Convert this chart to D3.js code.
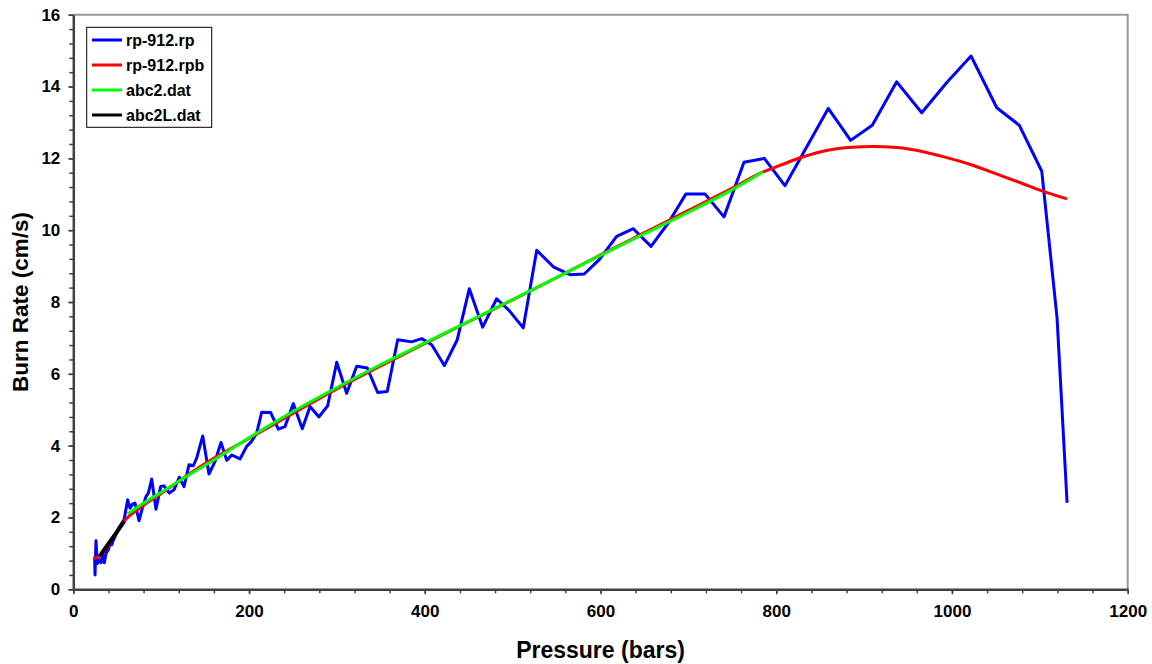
<!DOCTYPE html>
<html>
<head>
<meta charset="utf-8">
<script src="https://cdn.jsdelivr.net/npm/d3@7/dist/d3.min.js"></script>
<style>
body { margin: 0; background: #fff; }
text { font-family: "Liberation Sans", Arial, sans-serif; font-weight: bold; fill: #000; }
</style>
</head>
<body>
<script>
// tick values
var xTicks = [0, 200, 400, 600, 800, 1000, 1200];
var yTicks = [0, 2, 4, 6, 8, 10, 12, 14, 16];

var seriesNames = ["rp-912.rp", "rp-912.rpb", "abc2.dat", "abc2L.dat"];
var seriesColors = ["#0000ff", "#ff0000", "#00ff00", "#000000"];

// rp-912.rp (measured, noisy)
var rpPressure = [24.3, 24.7, 25.8, 27.4, 29.6, 31.5, 33.4, 35.3, 37.2, 39.9, 41.8, 43.7, 45.6, 47.5, 51.3, 55.1, 57.7,
  61.9, 64.5, 67.6, 70.2, 74.8, 79, 82.7, 85.4, 89.2, 94.1, 99.4, 103.2, 109.3, 114.6, 120.6, 126, 131.7, 136.6, 140.4,
  147.3, 154.4, 161.3, 168.1, 174.6, 180.3, 189.7, 197.3, 203, 208.7, 214.4, 224.6, 233.3, 240.9, 250.4, 260.6, 269.4,
  279.6, 289.5, 299.8, 311.1, 322.5, 334.6, 346.4, 357.3, 369.2, 385.1, 396.5, 407.9, 422.3, 437, 450.7, 465.9, 481.8,
  495, 512.1, 527.4, 546.3, 565.3, 581.5, 598.6, 618.4, 637.3, 657.5, 677.1, 697.3, 718.9, 740.5, 763.3, 786.4, 809.9,
  859.2, 884.7, 909.3, 937.1, 965.6, 994.1, 1021.7, 1051, 1076.7, 1102.2, 1119.6, 1131];
var rpRate = [0.91, 0.40, 1.35, 0.72, 0.82, 0.74, 0.96, 0.74, 1.00, 1.10, 1.28, 1.24, 1.37, 1.47, 1.70, 1.84, 1.93,
  2.49, 2.26, 2.38, 2.40, 1.91, 2.30, 2.58, 2.68, 3.07, 2.23, 2.86, 2.88, 2.68, 2.77, 3.12, 2.86, 3.47, 3.44, 3.65,
  4.27, 3.21, 3.56, 4.09, 3.59, 3.74, 3.63, 3.98, 4.12, 4.35, 4.93, 4.92, 4.46, 4.53, 5.17, 4.47, 5.09,
  4.80, 5.11, 6.32, 5.46, 6.21, 6.16, 5.48, 5.51, 6.95, 6.89, 6.98, 6.81, 6.23, 6.95, 8.37, 7.30, 8.09,
  7.79, 7.28, 9.44, 8.98, 8.76, 8.78, 9.18, 9.83, 10.04, 9.55, 10.20, 11.01, 11.01, 10.37, 11.89, 12.00, 11.24,
  13.39, 12.50, 12.92, 14.13, 13.27, 14.11, 14.85, 13.41, 12.92, 11.64, 7.56, 2.41];

// rp-912.rpb (smooth fit)
var rpbPressure = [23, 30, 45, 59, 76, 100, 150, 200, 250, 300, 350, 400, 450, 500, 550, 600, 650, 700, 750, 785,
  805, 829, 857, 886, 910, 937, 966, 994, 1021, 1049, 1078, 1104, 1131];
var rpbRate = [0.86, 0.92, 1.42, 1.93, 2.27, 2.67, 3.50, 4.20, 4.90, 5.58, 6.22, 6.84, 7.45, 8.06, 8.68, 9.31, 9.93,
  10.55, 11.17, 11.62, 11.81, 12.03, 12.22, 12.31, 12.33, 12.30, 12.19, 12.02, 11.83, 11.58, 11.32, 11.08, 10.87];

// abc2.dat
var abcPressure = [62, 80, 100, 130, 160, 200, 250, 300, 350, 400, 450, 500, 550, 600, 650, 700, 750, 785];
var abcRate = [2.10, 2.40, 2.70, 3.16, 3.60, 4.22, 4.95, 5.62, 6.26, 6.86, 7.46, 8.07, 8.68, 9.30, 9.90, 10.50, 11.13, 11.62];

// abc2L.dat
var abcLPressure = [30, 35, 40, 45, 50, 55, 58];
var abcLRate = [0.92, 1.10, 1.27, 1.44, 1.61, 1.79, 1.90];

var width = 1152, height = 664;
var plotLeft = 73.3, plotRight = 1127.7, plotTop = 14.7, plotBottom = 589.3;

var svg = d3.select("body").append("svg")
  .attr("width", width)
  .attr("height", height);

var x = d3.scaleLinear().domain([0, 1200]).range([plotLeft, plotRight]);
var y = d3.scaleLinear().domain([0, 16]).range([plotBottom, plotTop]);

// frame on top and right
svg.append("path")
  .attr("d", "M" + x(0) + "," + y(16) + "H" + x(1200) + "V" + y(0))
  .attr("fill", "none")
  .attr("stroke", "#999")
  .attr("stroke-width", 2);

// minor ticks
var xMinor = d3.range(0, 1201, 40);
var yMinor = d3.range(0, 16.01, 0.4);

svg.append("g")
  .attr("transform", "translate(0," + plotBottom + ")")
  .call(d3.axisBottom(x).tickValues(xMinor).tickSize(4).tickFormat(""))
  .call(function (g) { g.select(".domain").remove(); g.selectAll("line").attr("stroke", "#404040").attr("stroke-width", 1.5); });

svg.append("g")
  .attr("transform", "translate(" + plotLeft + ",0)")
  .call(d3.axisLeft(y).tickValues(yMinor).tickSize(4).tickFormat(""))
  .call(function (g) { g.select(".domain").remove(); g.selectAll("line").attr("stroke", "#404040").attr("stroke-width", 1.5); });

// major axes
var xAxis = svg.append("g")
  .attr("transform", "translate(0," + plotBottom + ")")
  .call(d3.axisBottom(x).tickValues(xTicks).tickFormat(d3.format("d")).tickSize(5).tickSizeOuter(0).tickPadding(11));
xAxis.select(".domain").attr("stroke", "#404040").attr("stroke-width", 2.5);
xAxis.selectAll("line").attr("stroke", "#404040").attr("stroke-width", 1.5);
xAxis.selectAll("text").attr("font-size", 17).attr("font-family", null);

var yAxis = svg.append("g")
  .attr("transform", "translate(" + plotLeft + ",0)")
  .call(d3.axisLeft(y).tickValues(yTicks).tickFormat(d3.format("d")).tickSize(5).tickSizeOuter(0).tickPadding(8));
yAxis.select(".domain").attr("stroke", "#404040").attr("stroke-width", 2.5);
yAxis.selectAll("line").attr("stroke", "#404040").attr("stroke-width", 1.5);
yAxis.selectAll("text").attr("font-size", 17).attr("font-family", null);

// axis titles
svg.append("text")
  .attr("x", (plotLeft + plotRight) / 2)
  .attr("y", 658)
  .attr("text-anchor", "middle")
  .attr("font-size", 23)
  .text("Pressure (bars)");

svg.append("text")
  .attr("transform", "translate(28," + ((plotTop + plotBottom) / 2) + ") rotate(-90)")
  .attr("text-anchor", "middle")
  .attr("font-size", 22.5)
  .text("Burn Rate (cm/s)");

// lines
var plot = svg.append("g");

function drawSeries(px, py, color, curve, w) {
  var pts = px.map(function (d, i) { return [d, py[i]]; });
  var line = d3.line()
    .x(function (d) { return x(d[0]); })
    .y(function (d) { return y(d[1]); })
    .curve(curve);
  plot.append("path")
    .datum(pts)
    .attr("d", line)
    .attr("fill", "none")
    .attr("stroke", color)
    .attr("stroke-width", w)
    .attr("stroke-linejoin", "round");
}

drawSeries(rpPressure, rpRate, seriesColors[0], d3.curveLinear, 3);
drawSeries(rpbPressure, rpbRate, seriesColors[1], d3.curveMonotoneX, 3);
drawSeries(abcPressure, abcRate, seriesColors[2], d3.curveMonotoneX, 3);
drawSeries(abcLPressure, abcLRate, seriesColors[3], d3.curveLinear, 4);

// legend
var legend = svg.append("g");
legend.append("rect")
  .attr("x", 86.7).attr("y", 27.3)
  .attr("width", 125).attr("height", 100)
  .attr("fill", "#fff")
  .attr("stroke", "#000")
  .attr("stroke-width", 1);

seriesNames.forEach(function (name, i) {
  var ly = 40 + i * 25;
  legend.append("line")
    .attr("x1", 92).attr("x2", 122)
    .attr("y1", ly).attr("y2", ly)
    .attr("stroke", seriesColors[i])
    .attr("stroke-width", 3);
  legend.append("text")
    .attr("x", 126)
    .attr("y", ly + 5.5)
    .attr("font-size", 16)
    .text(name);
});
</script>
</body>
</html>
